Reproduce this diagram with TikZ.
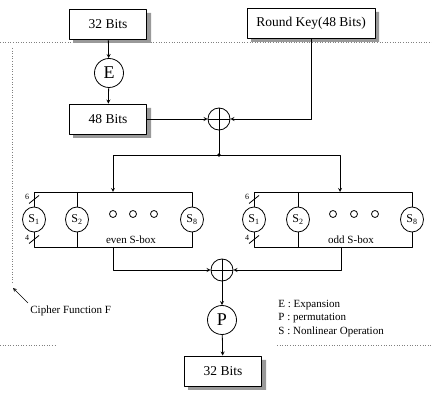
\documentclass[tikz,border=0pt]{standalone}
\usepackage{fontspec}
\setmainfont{Liberation Serif}
\usetikzlibrary{shapes.geometric}
\begin{document}
\begin{tikzpicture}[x=1pt,y=-1pt,>=stealth,line join=round,line width=.8pt,
  box/.style={draw,fill=white,minimum width=77pt,minimum height=30pt,inner sep=0pt,
    font=\fontsize{13.5}{15}\selectfont},
  boxshade/.style={fill=black!40},
  op/.style={draw,circle,fill=white,minimum size=29pt,inner sep=0pt,font=\fontsize{18}{18}\selectfont},
  sbox/.style={draw,ellipse,fill=white,minimum width=23pt,minimum height=25pt,inner sep=0pt,
    font=\fontsize{12}{12}\selectfont},
  xorc/.style={draw,circle,fill=white,minimum size=22pt,inner sep=0pt,
    path picture={\draw (path picture bounding box.north)--(path picture bounding box.south)
      (path picture bounding box.west)--(path picture bounding box.east);}},
  small/.style={font=\fontsize{11}{12}\selectfont,inner sep=0pt},
  bound/.style={gray,dotted,line width=.6pt}]
\useasboundingbox (0,0) rectangle (432,393);
% cipher function border
\draw[bound] (0,42)--(432,42) (12,48)--(12,283) (0,345)--(55,345) (277,345)--(432,345);
% shadows of the boxes
\fill[boxshade] (73,13) rectangle (151,43) (251,12) rectangle (379,42)
 (73,108) rectangle (151,138) (188,360) rectangle (266,390);
% top part
\node[box] (in) at (108,24) {32 Bits};
\node[box,minimum width=128pt] (key) at (311,23) {Round Key(48 Bits)};
\node[op] (E) at (109,73) {E};
\node[box] (mid) at (108,119) {48 Bits};
\node[xorc] (x1) at (219,119) {};
\coordinate (split) at (219,155);
\draw[->] (in)--(E);
\draw[->] (E)--(mid);
\draw[->] (mid)--(x1);
\draw[->] (key.south)|-(x1);
\draw (x1)--(split);
\fill (split) circle (1.8);
% s-box frames
\path
 (113,192) coordinate (LT) (113,247) coordinate (LB)
 (340,192) coordinate (RT) (341,247) coordinate (RB);
\draw (34,192) rectangle (192,247) (254,192) rectangle (412,247)
 (77,192)--(77,247) (298,192)--(298,247);
\draw[->] (split)-|(LT);
\draw[->] (split)-|(RT);
\foreach \n/\x/\s in {a1/34/1,a2/77/2,a8/192/8,b1/254/1,b2/298/2,b8/412/8}
  \node[sbox] (\n) at (\x,219.5) {S\textsubscript{\s}};
\foreach \x in {113,133,154,333,354,375}
  \draw (\x,214) circle (3.5);
\foreach \x in {34,254}{
  \draw (\x-5,203.5)--(\x+5,195.5) (\x-5,243.5)--(\x+5,235.5);
  \node[font=\fontsize{8}{8}\selectfont] at (\x-7,197) {6};
  \node[font=\fontsize{8}{8}\selectfont] at (\x-7,238) {4};
}
\node[small] (ev) at (131,240) {even S-box};
\node[small] (od) at (351,240) {odd S-box};
% bottom part
\node[xorc] (x2) at (222,270) {};
\node[op] (P) at (222,320) {P};
\node[box] (out) at (223,371) {32 Bits};
\draw[->] (LB)|-(x2);
\draw[->] (RB)|-(x2);
\draw[->] (x2)--(P);
\draw[->] (P)--(out);
% legend
\node[small,anchor=west] (l1) at (278,305) {E : Expansion};
\node[small,anchor=west] (l2) at (278,318) {P : permutation};
\node[small,anchor=west] (l3) at (278,332) {S : Nonlinear Operation};
\node[small,anchor=west] (cf) at (30,311) {Cipher Function F};
\coordinate (cftip) at (13,288);
\draw[->,line width=.7pt] (28,303)--(cftip);
\end{tikzpicture}
\end{document}
